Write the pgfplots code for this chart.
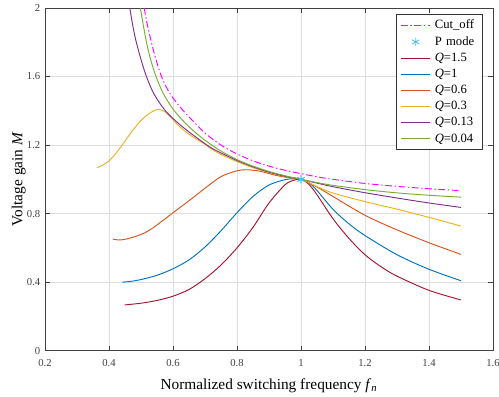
\documentclass[border=0pt]{standalone}
\usepackage{pgfplots}
\pgfplotsset{compat=1.18}
\usepackage{fontspec}
\setmainfont{Liberation Serif}
\definecolor{cA}{HTML}{A2142F}
\definecolor{cB}{HTML}{0072BD}
\definecolor{cC}{HTML}{D95319}
\definecolor{cD}{HTML}{EDB120}
\definecolor{cE}{HTML}{7E2F8E}
\definecolor{cF}{HTML}{77AC30}
\definecolor{cP}{HTML}{4DBEEE}
\definecolor{cM}{HTML}{FF00FF}
\pgfplotsset{
  linelegend/.style={legend image code/.code={\draw[#1] (0pt,0pt) -- (22pt,0pt);}},
  marklegend/.style={legend image code/.code={\draw[#1] plot coordinates {(11pt,0pt)};}},
}
\begin{document}
\begin{tikzpicture}
\begin{axis}[
  scale only axis, width=336pt, height=257pt,
  xmin=0.2, xmax=1.6, ymin=0, ymax=2,
  xtick={0.2,0.4,0.6,0.8,1,1.2,1.4,1.6},
  ytick={0,0.4,0.8,1.2,1.6,2},
  grid=major, grid style={black!13, line width=0.6pt},
  tick align=inside, major tick length=3.5pt,
  axis line style={black!75, line width=0.6pt},
  every tick/.style={black!75, line width=0.6pt},
  /pgf/number format/assume math mode=true,
  tick label style={font=\fontsize{8}{9}\selectfont, text=black!75},
  xticklabel style={yshift=-3pt},
  xlabel={Normalized switching frequency \textit{f}\textsubscript{\textit{n}}},
  ylabel={Voltage gain \textit{M}},
  label style={font=\fontsize{11.5}{13}\selectfont},
  xlabel style={yshift=-2pt},
  ylabel style={yshift=-6pt},
  legend style={at={(rel axis cs:0.978,0.982)}, anchor=north east,
    font=\fontsize{9.5}{10}\selectfont, draw=black!80, line width=0.5pt,
    row sep=0.3pt, inner xsep=3pt, inner ysep=2pt,
    nodes={inner xsep=3pt, text width=30pt, align=left}},
  legend cell align=left,
  linelegend,
  every axis plot/.append style={line width=0.7pt},
]
\addplot[cM, dash pattern=on 5pt off 2pt on 1pt off 2pt, smooth] coordinates {
(0.51,2.0) (0.52,1.90) (0.53,1.82) (0.54,1.745) (0.56,1.62) (0.58,1.535) (0.60,1.475)
(0.63,1.405) (0.66,1.345) (0.70,1.27) (0.75,1.2) (0.80,1.148) (0.85,1.108) (0.90,1.077)
(0.95,1.053) (1.0,1.033) (1.05,1.015) (1.1,1.0) (1.2,0.976) (1.3,0.959) (1.4,0.945) (1.5,0.934)};
\addlegendentry{Cut\_off}
\addplot[only marks, mark=asterisk, mark size=3.2pt, cP, line width=0.6pt, marklegend] coordinates {(1,1)};
\addlegendentry{P mode}
\addplot[cA, smooth] coordinates {
(0.449,0.267) (0.5,0.277) (0.55,0.293) (0.6,0.318) (0.65,0.357) (0.7,0.42) (0.75,0.5)
(0.8,0.6) (0.85,0.72) (0.9,0.862) (0.95,0.968) (0.975,0.993) (1.0,1.0)
(1.025,0.97) (1.05,0.91) (1.1,0.77) (1.15,0.655) (1.2,0.56) (1.25,0.49) (1.3,0.435) (1.4,0.352) (1.5,0.296)};
\addlegendentry{\textit{Q}=1.5}
\addplot[cB, smooth] coordinates {
(0.442,0.40) (0.47,0.405) (0.5,0.415) (0.55,0.44) (0.6,0.478) (0.65,0.53) (0.7,0.605)
(0.75,0.70) (0.8,0.805) (0.85,0.9) (0.9,0.967) (0.95,0.998) (0.975,1.003) (1.0,1.0)
(1.025,0.98) (1.05,0.935) (1.1,0.825) (1.15,0.74) (1.2,0.672) (1.3,0.56) (1.4,0.475) (1.5,0.408)};
\addlegendentry{\textit{Q}=1}
\addplot[cC, smooth] coordinates {
(0.412,0.652) (0.43,0.646) (0.45,0.650) (0.48,0.665) (0.5,0.678) (0.52,0.696) (0.54,0.72)
(0.56,0.748) (0.58,0.776) (0.6,0.805) (0.65,0.875) (0.7,0.948) (0.75,1.016) (0.8,1.05)
(0.83,1.056) (0.87,1.048) (0.92,1.024) (0.96,1.01) (1.0,1.0) (1.05,0.955) (1.1,0.9)
(1.2,0.79) (1.3,0.705) (1.4,0.63) (1.5,0.562)};
\addlegendentry{\textit{Q}=0.6}
\addplot[cD, smooth] coordinates {
(0.362,1.068) (0.38,1.082) (0.4,1.108) (0.42,1.148) (0.44,1.197) (0.46,1.25) (0.48,1.3)
(0.5,1.343) (0.52,1.377) (0.54,1.400) (0.555,1.408) (0.57,1.400) (0.585,1.378) (0.6,1.348)
(0.615,1.318) (0.63,1.292) (0.65,1.263) (0.67,1.238) (0.695,1.21) (0.72,1.177) (0.75,1.145)
(0.8,1.103) (0.85,1.068) (0.9,1.04) (0.95,1.016) (1.0,1.0) (1.05,0.958) (1.1,0.92) (1.2,0.87)
(1.3,0.826) (1.4,0.778) (1.5,0.727)};
\addlegendentry{\textit{Q}=0.3}
\addplot[cE, smooth] coordinates {
(0.465,2.0) (0.475,1.89) (0.486,1.795) (0.50,1.70) (0.517,1.6) (0.54,1.50) (0.574,1.405)
(0.61,1.338) (0.644,1.285) (0.68,1.235) (0.72,1.183) (0.76,1.145) (0.8,1.11) (0.85,1.073)
(0.9,1.042) (0.95,1.018) (1.0,1.0) (1.05,0.978) (1.1,0.957) (1.2,0.922) (1.3,0.891) (1.4,0.862) (1.5,0.836)};
\addlegendentry{\textit{Q}=0.13}
\addplot[cF, smooth] coordinates {
(0.498,2.0) (0.51,1.87) (0.52,1.775) (0.53,1.70) (0.54,1.638) (0.55,1.585) (0.57,1.50)
(0.60,1.41) (0.63,1.345) (0.66,1.29) (0.70,1.228) (0.75,1.165) (0.80,1.115) (0.85,1.077)
(0.90,1.046) (0.95,1.021) (1.0,1.0) (1.05,0.981) (1.1,0.965) (1.2,0.94) (1.3,0.921) (1.4,0.907) (1.5,0.896)};
\addlegendentry{\textit{Q}=0.04}
\addplot[only marks, mark=asterisk, mark size=3.2pt, cP, line width=0.6pt, forget plot] coordinates {(1,1)};
\end{axis}
\pgfresetboundingbox
\path[use as bounding box] ([xshift=-33.75pt,yshift=-34.5pt]current axis.south west) rectangle ([xshift=4.5pt,yshift=6pt]current axis.north east);
\end{tikzpicture}
\end{document}
